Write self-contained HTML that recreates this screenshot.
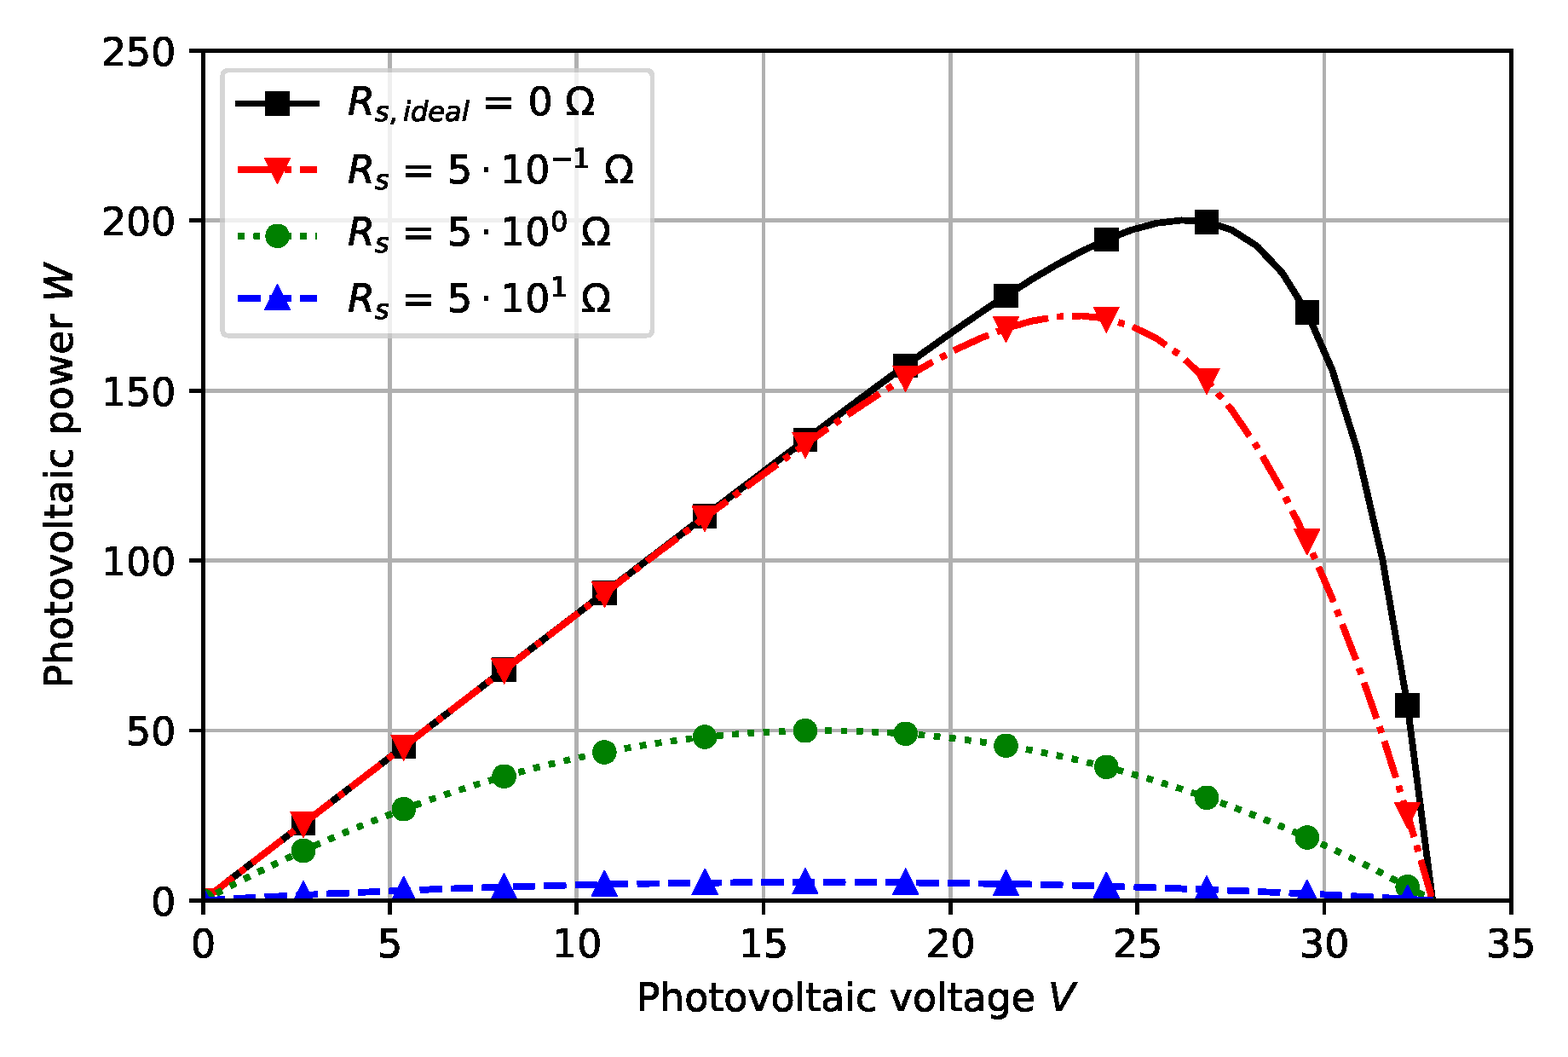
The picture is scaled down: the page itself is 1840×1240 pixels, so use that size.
<!DOCTYPE html>
<html lang="en">
<head>
<meta charset="utf-8">
<title>Photovoltaic power vs. photovoltaic voltage</title>
<style>
html,body{margin:0;padding:0;background:#ffffff;}
body{width:1840px;height:1240px;overflow:hidden;}
svg{display:block;}
</style>
</head>
<body>
<svg width="1840" height="1240" viewBox="0 0 1840 1240" role="img" aria-label="Photovoltaic power versus photovoltaic voltage for different series resistances">
<defs>
<clipPath id="axclip"><rect x="238.2" y="59.4" width="1535" height="997"/></clipPath>
<filter id="fk" filterUnits="userSpaceOnUse" x="0" y="0" width="1840" height="1240" color-interpolation-filters="sRGB"><feComponentTransfer in="SourceAlpha" result="a"><feFuncA type="linear" slope="255" intercept="0"/></feComponentTransfer><feFlood flood-color="#000000"/><feComposite operator="in" in2="a"/></filter>
<filter id="fr" filterUnits="userSpaceOnUse" x="0" y="0" width="1840" height="1240" color-interpolation-filters="sRGB"><feComponentTransfer in="SourceAlpha" result="a"><feFuncA type="linear" slope="255" intercept="0"/></feComponentTransfer><feFlood flood-color="#ff0000"/><feComposite operator="in" in2="a"/></filter>
<filter id="fg" filterUnits="userSpaceOnUse" x="0" y="0" width="1840" height="1240" color-interpolation-filters="sRGB"><feComponentTransfer in="SourceAlpha" result="a"><feFuncA type="linear" slope="255" intercept="0"/></feComponentTransfer><feFlood flood-color="#008000"/><feComposite operator="in" in2="a"/></filter>
<filter id="fb" filterUnits="userSpaceOnUse" x="0" y="0" width="1840" height="1240" color-interpolation-filters="sRGB"><feComponentTransfer in="SourceAlpha" result="a"><feFuncA type="linear" slope="255" intercept="0"/></feComponentTransfer><feFlood flood-color="#0000ff"/><feComposite operator="in" in2="a"/></filter>
<filter id="fc" filterUnits="userSpaceOnUse" x="0" y="0" width="1840" height="1240" color-interpolation-filters="sRGB"><feComponentTransfer in="SourceAlpha" result="a"><feFuncA type="linear" slope="255" intercept="0"/></feComponentTransfer><feFlood flood-color="#cccccc"/><feComposite operator="in" in2="a"/></filter>
<filter id="ft" filterUnits="userSpaceOnUse" x="0" y="0" width="1840" height="1240" color-interpolation-filters="sRGB"><feComponentTransfer in="SourceAlpha" result="a"><feFuncA type="linear" slope="255" intercept="0"/></feComponentTransfer><feFlood flood-color="#000000"/><feComposite operator="in" in2="a"/></filter>
<filter id="fv" filterUnits="userSpaceOnUse" x="0" y="0" width="1840" height="1240" color-interpolation-filters="sRGB"><feComponentTransfer in="SourceAlpha" result="a"><feFuncA type="linear" slope="255" intercept="0"/></feComponentTransfer><feFlood flood-color="#000000"/><feComposite operator="in" in2="a"/></filter>
</defs>
<rect width="1840" height="1240" fill="#ffffff"/>
<g id="grid" fill="#b0b0b0" shape-rendering="crispEdges">
<rect x="455" y="59" width="5" height="998"/>
<rect x="674" y="59" width="5" height="998"/>
<rect x="894" y="59" width="4" height="998"/>
<rect x="1113" y="59" width="5" height="998"/>
<rect x="1332" y="59" width="5" height="998"/>
<rect x="1552" y="59" width="4" height="998"/>
<rect x="238" y="855" width="1536" height="4"/>
<rect x="238" y="655" width="1536" height="5"/>
<rect x="238" y="456" width="1536" height="5"/>
<rect x="238" y="256" width="1536" height="5"/>
</g>
<g id="ticks" fill="#000000" shape-rendering="crispEdges">
<rect x="236" y="1056" width="5" height="17"/>
<rect x="455" y="1056" width="5" height="17"/>
<rect x="674" y="1056" width="5" height="17"/>
<rect x="894" y="1056" width="4" height="17"/>
<rect x="1113" y="1056" width="5" height="17"/>
<rect x="1332" y="1056" width="5" height="17"/>
<rect x="1552" y="1056" width="4" height="17"/>
<rect x="1771" y="1056" width="5" height="17"/>
<rect x="222" y="1054" width="17" height="5"/>
<rect x="222" y="855" width="17" height="4"/>
<rect x="222" y="655" width="17" height="5"/>
<rect x="222" y="456" width="17" height="5"/>
<rect x="222" y="256" width="17" height="5"/>
<rect x="222" y="57" width="17" height="5"/>
</g>
<g id="labels" style="font-family:'DejaVu Sans','Liberation Sans',sans-serif;font-size:45.83px;fill:#000000;text-rendering:geometricPrecision" filter="url(#ft)">
<text x="238.7" y="1123.41" text-anchor="middle">0</text>
<text x="457.49" y="1123.41" text-anchor="middle">5</text>
<text x="677.27" y="1123.41" text-anchor="middle">10</text>
<text x="896.06" y="1123.41" text-anchor="middle">15</text>
<text x="1115.59" y="1123.41" text-anchor="middle">20</text>
<text x="1335.13" y="1123.41" text-anchor="middle">25</text>
<text x="1554.16" y="1123.41" text-anchor="middle">30</text>
<text x="1773.2" y="1123.41" text-anchor="middle">35</text>
<text x="206.42" y="1073.81" text-anchor="end">0</text>
<text x="206.42" y="874.41" text-anchor="end">50</text>
<text x="206.42" y="675.01" text-anchor="end">100</text>
<text x="206.42" y="475.61" text-anchor="end">150</text>
<text x="206.42" y="276.21" text-anchor="end">200</text>
<text x="206.42" y="76.81" text-anchor="end">250</text>
<text x="746.65" y="1186" xml:space="preserve">Photovoltaic voltage <tspan font-style="oblique" dx="0.7">V</tspan></text>
</g>
<g id="ylabel" style="font-family:'DejaVu Sans','Liberation Sans',sans-serif;font-size:45.83px;fill:#000000;text-rendering:geometricPrecision" filter="url(#fv)">
<text transform="translate(84.95 807.56) rotate(-90)" x="0" y="0" xml:space="preserve">Photovoltaic power <tspan font-style="oblique">W</tspan></text>
</g>
<g clip-path="url(#axclip)" filter="url(#fk)">
<polyline fill="none" stroke="#000000" stroke-width="6.88" stroke-linejoin="round" stroke-linecap="square" points="238.2,1056.4 267.65,1033.83 297.09,1011.26 326.54,988.69 355.99,966.12 385.43,943.55 414.88,920.98 444.33,898.41 473.78,875.85 503.22,853.28 532.67,830.72 562.12,808.15 591.56,785.59 621.01,763.04 650.46,740.49 679.9,717.95 709.35,695.41 738.8,672.89 768.24,650.39 797.69,627.91 827.14,605.45 856.59,583.04 886.03,560.67 915.48,538.37 944.93,516.15 974.37,494.04 1003.82,472.07 1033.27,450.3 1062.71,428.77 1092.16,407.55 1121.61,386.76 1151.06,366.51 1180.5,346.96 1209.95,328.33 1239.4,310.88 1268.84,294.99 1298.29,281.09 1327.74,269.8 1357.18,261.87 1386.63,258.31 1416.08,260.4 1445.52,269.81 1474.97,288.68 1504.42,319.78 1533.87,366.71 1563.31,434.09 1592.76,527.87 1622.21,655.76 1651.65,827.67 1681.1,1056.4"/>
<rect x="224.45" y="1042.65" width="27.5" height="27.5" fill="#000000"/>
<rect x="342.24" y="952.37" width="27.5" height="27.5" fill="#000000"/>
<rect x="460.03" y="862.1" width="27.5" height="27.5" fill="#000000"/>
<rect x="577.81" y="771.84" width="27.5" height="27.5" fill="#000000"/>
<rect x="695.6" y="681.66" width="27.5" height="27.5" fill="#000000"/>
<rect x="813.39" y="591.7" width="27.5" height="27.5" fill="#000000"/>
<rect x="931.18" y="502.4" width="27.5" height="27.5" fill="#000000"/>
<rect x="1048.96" y="415.02" width="27.5" height="27.5" fill="#000000"/>
<rect x="1166.75" y="333.21" width="27.5" height="27.5" fill="#000000"/>
<rect x="1284.54" y="267.34" width="27.5" height="27.5" fill="#000000"/>
<rect x="1402.33" y="246.65" width="27.5" height="27.5" fill="#000000"/>
<rect x="1520.12" y="352.96" width="27.5" height="27.5" fill="#000000"/>
<rect x="1637.9" y="813.92" width="27.5" height="27.5" fill="#000000"/>
</g>
<g clip-path="url(#axclip)" filter="url(#fr)">
<polyline fill="none" stroke="#ff0000" stroke-width="6.88" stroke-linejoin="round" stroke-linecap="butt" stroke-dasharray="44,11,6.88,11" points="238.2,1056.4 267.65,1033.83 297.09,1011.26 326.54,988.69 355.99,966.13 385.43,943.56 414.88,921 444.33,898.44 473.78,875.88 503.22,853.33 532.67,830.79 562.12,808.26 591.56,785.74 621.01,763.24 650.46,740.76 679.9,718.31 709.35,695.91 738.8,673.56 768.24,651.28 797.69,629.1 827.14,607.04 856.59,585.14 886.03,563.45 915.48,542.04 944.93,520.98 974.37,500.39 1003.82,480.39 1033.27,461.14 1062.71,442.85 1092.16,425.78 1121.61,410.24 1151.06,396.59 1180.5,385.26 1209.95,376.75 1239.4,371.61 1268.84,370.44 1298.29,373.88 1327.74,382.54 1357.18,397.06 1386.63,418 1416.08,445.89 1445.52,481.16 1474.97,524.17 1504.42,575.19 1533.87,634.42 1563.31,701.99 1592.76,777.96 1622.21,862.36 1651.65,955.19 1681.1,1056.4"/>
<polygon points="238.2,1072.98 253.37,1042.65 223.03,1042.65" fill="#ff0000"/>
<polygon points="355.99,982.71 371.15,952.38 340.82,952.38" fill="#ff0000"/>
<polygon points="473.78,892.47 488.94,862.13 458.61,862.13" fill="#ff0000"/>
<polygon points="591.56,802.32 606.73,771.99 576.4,771.99" fill="#ff0000"/>
<polygon points="709.35,712.49 724.52,682.16 694.18,682.16" fill="#ff0000"/>
<polygon points="827.14,623.62 842.31,593.29 811.97,593.29" fill="#ff0000"/>
<polygon points="944.93,537.57 960.09,507.23 929.76,507.23" fill="#ff0000"/>
<polygon points="1062.71,459.43 1077.88,429.1 1047.55,429.1" fill="#ff0000"/>
<polygon points="1180.5,401.84 1195.67,371.51 1165.34,371.51" fill="#ff0000"/>
<polygon points="1298.29,390.46 1313.46,360.13 1283.12,360.13" fill="#ff0000"/>
<polygon points="1416.08,462.47 1431.24,432.14 1400.91,432.14" fill="#ff0000"/>
<polygon points="1533.87,651.01 1549.03,620.67 1518.7,620.67" fill="#ff0000"/>
<polygon points="1651.65,971.77 1666.82,941.44 1636.49,941.44" fill="#ff0000"/>
</g>
<g clip-path="url(#axclip)" filter="url(#fg)">
<polyline fill="none" stroke="#008000" stroke-width="6.88" stroke-linejoin="round" stroke-linecap="butt" stroke-dasharray="6.88,11.34" points="238.2,1056.4 267.65,1040.9 297.09,1026 326.54,1011.69 355.99,997.99 385.43,984.9 414.88,972.43 444.33,960.58 473.78,949.36 503.22,938.76 532.67,928.8 562.12,919.47 591.56,910.79 621.01,902.74 650.46,895.34 679.9,888.59 709.35,882.48 738.8,877.03 768.24,872.24 797.69,868.1 827.14,864.62 856.59,861.8 886.03,859.65 915.48,858.15 944.93,857.33 974.37,857.17 1003.82,857.68 1033.27,858.85 1062.71,860.7 1092.16,863.23 1121.61,866.42 1151.06,870.29 1180.5,874.84 1209.95,880.06 1239.4,885.97 1268.84,892.55 1298.29,899.81 1327.74,907.75 1357.18,916.37 1386.63,925.67 1416.08,935.66 1445.52,946.33 1474.97,957.69 1504.42,969.73 1533.87,982.46 1563.31,995.87 1592.76,1009.97 1622.21,1024.76 1651.65,1040.23 1681.1,1056.4"/>
<circle cx="238.2" cy="1056.4" r="13.75" fill="#008000"/>
<circle cx="355.99" cy="997.99" r="13.75" fill="#008000"/>
<circle cx="473.78" cy="949.36" r="13.75" fill="#008000"/>
<circle cx="591.56" cy="910.79" r="13.75" fill="#008000"/>
<circle cx="709.35" cy="882.48" r="13.75" fill="#008000"/>
<circle cx="827.14" cy="864.62" r="13.75" fill="#008000"/>
<circle cx="944.93" cy="857.33" r="13.75" fill="#008000"/>
<circle cx="1062.71" cy="860.7" r="13.75" fill="#008000"/>
<circle cx="1180.5" cy="874.84" r="13.75" fill="#008000"/>
<circle cx="1298.29" cy="899.81" r="13.75" fill="#008000"/>
<circle cx="1416.08" cy="935.66" r="13.75" fill="#008000"/>
<circle cx="1533.87" cy="982.46" r="13.75" fill="#008000"/>
<circle cx="1651.65" cy="1040.23" r="13.75" fill="#008000"/>
</g>
<g clip-path="url(#axclip)" filter="url(#fb)">
<polyline fill="none" stroke="#0000ff" stroke-width="6.88" stroke-linejoin="round" stroke-linecap="butt" stroke-dasharray="25.44,11" points="238.2,1056.4 267.65,1054.69 297.09,1053.04 326.54,1051.47 355.99,1049.97 385.43,1048.54 414.88,1047.19 444.33,1045.9 473.78,1044.69 503.22,1043.54 532.67,1042.47 562.12,1041.47 591.56,1040.54 621.01,1039.69 650.46,1038.9 679.9,1038.19 709.35,1037.54 738.8,1036.97 768.24,1036.47 797.69,1036.04 827.14,1035.69 856.59,1035.4 886.03,1035.19 915.48,1035.04 944.93,1034.97 974.37,1034.97 1003.82,1035.04 1033.27,1035.19 1062.71,1035.4 1092.16,1035.69 1121.61,1036.04 1151.06,1036.47 1180.5,1036.97 1209.95,1037.54 1239.4,1038.19 1268.84,1038.9 1298.29,1039.69 1327.74,1040.54 1357.18,1041.47 1386.63,1042.47 1416.08,1043.54 1445.52,1044.69 1474.97,1045.9 1504.42,1047.19 1533.87,1048.54 1563.31,1049.97 1592.76,1051.47 1622.21,1053.04 1651.65,1054.69 1681.1,1056.4"/>
<polygon points="238.2,1039.82 223.03,1070.15 253.37,1070.15" fill="#0000ff"/>
<polygon points="355.99,1033.39 340.82,1063.72 371.15,1063.72" fill="#0000ff"/>
<polygon points="473.78,1028.1 458.61,1058.44 488.94,1058.44" fill="#0000ff"/>
<polygon points="591.56,1023.96 576.4,1054.29 606.73,1054.29" fill="#0000ff"/>
<polygon points="709.35,1020.96 694.18,1051.29 724.52,1051.29" fill="#0000ff"/>
<polygon points="827.14,1019.1 811.97,1049.44 842.31,1049.44" fill="#0000ff"/>
<polygon points="944.93,1018.39 929.76,1048.72 960.09,1048.72" fill="#0000ff"/>
<polygon points="1062.71,1018.82 1047.55,1049.15 1077.88,1049.15" fill="#0000ff"/>
<polygon points="1180.5,1020.39 1165.34,1050.72 1195.67,1050.72" fill="#0000ff"/>
<polygon points="1298.29,1023.1 1283.12,1053.44 1313.46,1053.44" fill="#0000ff"/>
<polygon points="1416.08,1026.96 1400.91,1057.29 1431.24,1057.29" fill="#0000ff"/>
<polygon points="1533.87,1031.96 1518.7,1062.29 1549.03,1062.29" fill="#0000ff"/>
<polygon points="1651.65,1038.1 1636.49,1068.44 1666.82,1068.44" fill="#0000ff"/>
</g>
<g id="spines" fill="#000000" shape-rendering="crispEdges">
<rect x="236" y="57" width="5" height="1002"/>
<rect x="1771" y="57" width="5" height="1002"/>
<rect x="236" y="57" width="1540" height="5"/>
<rect x="236" y="1054" width="1540" height="5"/>
</g>
<g id="legend">
<g opacity="0.8"><path d="M 268.5 394 L 757.9 394 Q 765.4 394 765.4 386.5 L 765.4 89.92 Q 765.4 82.42 757.9 82.42 L 268.5 82.42 Q 261 82.42 261 89.92 L 261 386.5 Q 261 394 268.5 394 Z" fill="#ffffff"/><path d="M 268.5 394 L 757.9 394 Q 765.4 394 765.4 386.5 L 765.4 89.92 Q 765.4 82.42 757.9 82.42 L 268.5 82.42 Q 261 82.42 261 89.92 L 261 386.5 Q 261 394 268.5 394 Z" fill="none" stroke="#cccccc" stroke-width="4.58" stroke-linejoin="miter" filter="url(#fc)"/></g>
<g filter="url(#fk)">
<line x1="279.75" y1="121.35" x2="371.42" y2="121.35" stroke="#000000" stroke-width="6.88" stroke-linecap="square"/>
<rect x="311.83" y="107.6" width="27.5" height="27.5" fill="#000000"/>
</g>
<g filter="url(#fr)">
<line x1="279.75" y1="199.1" x2="371.42" y2="199.1" stroke="#ff0000" stroke-width="6.88" stroke-linecap="butt" stroke-dasharray="44,11,6.88,11"/>
<polygon points="325.58,215.68 340.75,185.35 310.42,185.35" fill="#ff0000"/>
</g>
<g filter="url(#fg)">
<line x1="279.75" y1="276.8" x2="371.42" y2="276.8" stroke="#008000" stroke-width="6.88" stroke-linecap="butt" stroke-dasharray="6.88,11.34"/>
<circle cx="325.58" cy="276.8" r="13.75" fill="#008000"/>
</g>
<g filter="url(#fb)">
<line x1="279.75" y1="350.1" x2="371.42" y2="350.1" stroke="#0000ff" stroke-width="6.88" stroke-linecap="butt" stroke-dasharray="25.44,11"/>
<polygon points="325.58,333.52 310.42,363.85 340.75,363.85" fill="#0000ff"/>
</g>
<g id="legendtext" style="font-family:'DejaVu Sans','Liberation Sans',sans-serif;font-size:45.83px;fill:#000000;text-rendering:geometricPrecision" filter="url(#ft)">
<text xml:space="preserve"><tspan x="408.08" y="135" font-style="oblique">R</tspan><tspan x="439.93" y="142" font-style="oblique" font-size="32.08">s</tspan><tspan x="456.24" y="142" font-size="32.08">,</tspan><tspan x="473.09" y="142" font-style="oblique" font-size="32.08">ideal</tspan><tspan x="551.34" y="135"> =</tspan><tspan x="604.91" y="135"> 0 Ω</tspan></text>
<text xml:space="preserve"><tspan x="408.08" y="215" font-style="oblique">R</tspan><tspan x="439.93" y="222" font-style="oblique" font-size="32.08">s</tspan><tspan x="457.4" y="215"> = 5</tspan><tspan x="563.28" y="215">⋅</tspan><tspan x="587.03" y="215">10</tspan><tspan x="645.79" y="197" font-size="32.08">−</tspan><tspan x="671.67" y="197" font-size="32.08">1</tspan><tspan x="708.9" y="215">Ω</tspan></text>
<text xml:space="preserve"><tspan x="408.08" y="288" font-style="oblique">R</tspan><tspan x="439.93" y="296" font-style="oblique" font-size="32.08">s</tspan><tspan x="457.4" y="288"> = 5</tspan><tspan x="563.28" y="288">⋅</tspan><tspan x="587.03" y="288">10</tspan><tspan x="646.09" y="271" font-size="32.08">0</tspan><tspan x="682.02" y="288">Ω</tspan></text>
<text xml:space="preserve"><tspan x="408.08" y="366" font-style="oblique">R</tspan><tspan x="439.93" y="374" font-style="oblique" font-size="32.08">s</tspan><tspan x="457.4" y="366"> = 5</tspan><tspan x="563.28" y="366">⋅</tspan><tspan x="587.03" y="366">10</tspan><tspan x="645.79" y="348" font-size="32.08">1</tspan><tspan x="682.02" y="366">Ω</tspan></text>
</g>
</g>
</svg>
</body>
</html>
